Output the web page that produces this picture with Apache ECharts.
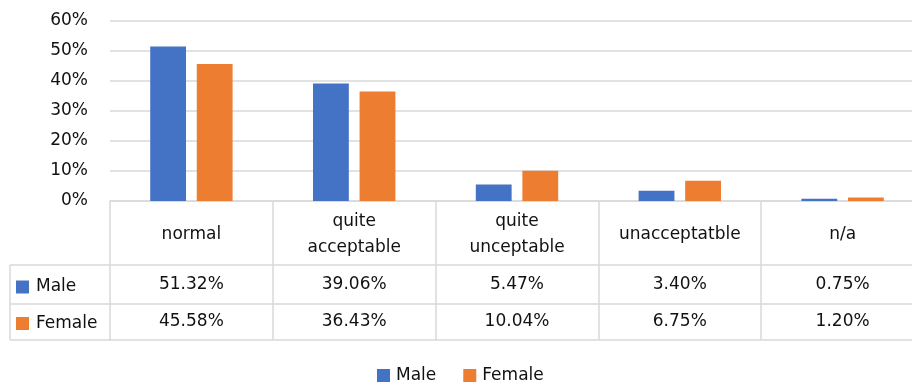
<!DOCTYPE html>
<html>
<head>
<meta charset="utf-8">
<script src="https://cdn.jsdelivr.net/npm/echarts@6/dist/echarts.min.js"></script>
<style>html,body{margin:0;padding:0;background:#fff;overflow:hidden;width:912px;height:387px}#c{width:924px;height:387px}</style>
</head>
<body>
<div id="c"></div>
<script>
var categories = ['normal', 'quite\nacceptable', 'quite\nunceptable', 'unacceptatble', 'n/a'];
var maleValues = [51.32, 39.06, 5.47, 3.40, 0.75];
var femaleValues = [45.58, 36.43, 10.04, 6.75, 1.20];
var seriesNames = ['Male', 'Female'];
var yTicks = [0, 10, 20, 30, 40, 50, 60];

var FONT = 'DejaVu Sans';
var TXT = '#111';
var LINE = '#d9d9d9';
var BLUE = '#4472C4';
var ORANGE = '#ED7D31';

var gridLeft = 110, gridTop = 20.5, gridBottomY = 201, gridWidth = 814, H = 387;
var row1 = 64, row2 = 39, row3 = 36;

var chart = echarts.init(document.getElementById('c'));

function tableAxis(offset, tickLen, labelFn, margin) {
  return {
    type: 'category', position: 'bottom', offset: offset, gridIndex: 0,
    data: categories,
    axisLine: { show: true, lineStyle: { color: LINE, width: 1.5 } },
    axisTick: { show: tickLen > 0, length: tickLen, interval: 0, alignWithLabel: false, lineStyle: { color: LINE, width: 1.5 } },
    axisLabel: labelFn ? {
      show: true, interval: 0, margin: margin, verticalAlign: 'middle',
      fontFamily: FONT, fontSize: 17, color: TXT, lineHeight: 26,
      formatter: labelFn
    } : { show: false },
    splitLine: { show: false }
  };
}

var option = {
  animation: false,
  backgroundColor: '#fff',
  color: [BLUE, ORANGE],
  grid: { left: gridLeft, top: gridTop, width: gridWidth, height: gridBottomY - gridTop, containLabel: false },
  legend: [
    {
      data: seriesNames, orient: 'horizontal', left: 377, top: 367, padding: 0,
      itemWidth: 13, itemHeight: 13, itemGap: 27, icon: 'rect',
      textStyle: { fontFamily: FONT, fontSize: 17, color: TXT, padding: [0, 0, 0, 1] }
    },
    {
      data: seriesNames, orient: 'vertical', left: 16, top: 277, padding: 0,
      itemWidth: 13, itemHeight: 13, itemGap: 16.5, icon: 'rect',
      selectedMode: false,
      textStyle: { fontFamily: FONT, fontSize: 17, color: TXT, lineHeight: 20, padding: [0, 0, 0, 2] }
    }
  ],
  xAxis: [
    tableAxis(0, row1, function (v) { return v; }, 34),
    tableAxis(row1, row2, function (v, i) { return maleValues[i].toFixed(2) + '%'; }, 20),
    tableAxis(row1 + row2, row3, function (v, i) { return femaleValues[i].toFixed(2) + '%'; }, 18),
    tableAxis(row1 + row2 + row3, 0, null, 0)
  ],
  yAxis: {
    type: 'value', min: yTicks[0], max: yTicks[yTicks.length - 1], interval: 10,
    axisLine: { show: false }, axisTick: { show: false },
    axisLabel: { formatter: '{value}%', fontFamily: FONT, fontSize: 17, color: TXT, margin: 22 },
    splitLine: { lineStyle: { color: LINE, width: 1.5 } }
  },
  series: [
    { name: seriesNames[0], type: 'bar', xAxisIndex: 0, data: maleValues, barWidth: '22%', barGap: '30%' },
    { name: seriesNames[1], type: 'bar', xAxisIndex: 0, data: femaleValues, barWidth: '22%', barGap: '30%' }
  ],
  graphic: [
    { type: 'line', shape: { x1: 10, y1: gridBottomY + row1, x2: gridLeft, y2: gridBottomY + row1 }, style: { stroke: LINE, lineWidth: 1.5 } },
    { type: 'line', shape: { x1: 10, y1: gridBottomY + row1 + row2, x2: gridLeft, y2: gridBottomY + row1 + row2 }, style: { stroke: LINE, lineWidth: 1.5 } },
    { type: 'line', shape: { x1: 10, y1: gridBottomY + row1 + row2 + row3, x2: gridLeft, y2: gridBottomY + row1 + row2 + row3 }, style: { stroke: LINE, lineWidth: 1.5 } },
    { type: 'line', shape: { x1: 10, y1: gridBottomY + row1, x2: 10, y2: gridBottomY + row1 + row2 + row3 }, style: { stroke: LINE, lineWidth: 1.5 } }
  ]
};
chart.setOption(option);
</script>
</body>
</html>
